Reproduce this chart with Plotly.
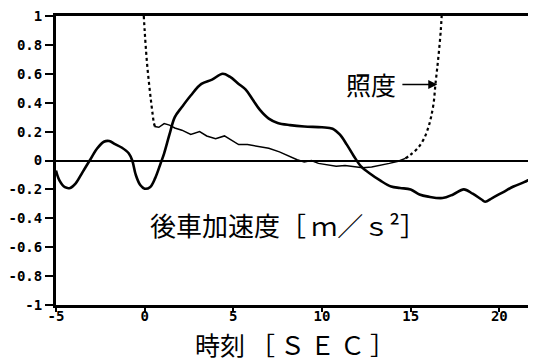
import plotly.graph_objects as go

# 後車加速度 (main thick curve)
acc_x = [-5.0, -4.8, -4.5, -4.2, -3.9, -3.5, -3.1, -2.7, -2.3, -2.0, -1.7, -1.3, -0.9, -0.7, -0.5, -0.25,
         0.0, 0.3, 0.6, 0.9, 1.1, 1.4, 1.7, 2.1, 2.6, 3.2, 3.8, 4.4, 4.8, 5.3, 5.7, 6.1, 6.5, 7.0, 7.5,
         8.2, 9.0, 10.0, 10.6, 11.0, 11.4, 11.8, 12.2, 12.7, 13.3, 13.9, 14.4, 15.0, 15.5, 16.0, 16.8,
         17.4, 18.0, 18.5, 19.0, 19.2, 19.6, 20.2, 20.8, 21.4, 22.0]
acc_y = [-0.07, -0.14, -0.185, -0.19, -0.16, -0.08, 0.0, 0.08, 0.13, 0.135, 0.115, 0.09, 0.05, 0.0, -0.1, -0.17,
         -0.195, -0.185, -0.12, -0.02, 0.05, 0.18, 0.3, 0.37, 0.45, 0.53, 0.56, 0.6, 0.58, 0.53, 0.49, 0.42, 0.35, 0.29, 0.26,
         0.245, 0.235, 0.23, 0.22, 0.18, 0.11, 0.03, -0.04, -0.09, -0.14, -0.18, -0.19, -0.2, -0.235, -0.25, -0.26,
         -0.235, -0.2, -0.23, -0.27, -0.285, -0.26, -0.22, -0.18, -0.15, -0.11]

# 照度 (illuminance): middle thin solid part
lux_x = [0.55, 0.8, 1.1, 1.4, 1.7, 2.1, 2.6, 3.1, 3.5, 4.0, 4.5, 4.9, 5.3, 5.8, 6.3, 7.0, 7.6, 8.1, 8.6,
         9.0, 9.4, 9.8, 10.3, 10.8, 11.3, 11.8, 12.3, 12.8, 13.3, 13.8, 14.3, 14.7]
lux_y = [0.235, 0.23, 0.255, 0.245, 0.225, 0.21, 0.18, 0.2, 0.17, 0.15, 0.17, 0.14, 0.11, 0.11, 0.1, 0.085, 0.06, 0.03, 0.005,
         -0.01, 0.0, -0.02, -0.03, -0.04, -0.035, -0.045, -0.05, -0.045, -0.035, -0.02, -0.005, 0.015]

# 照度: steep (dotted) parts
lux_l_x = [-0.05, 0.0, 0.06, 0.15, 0.25, 0.35, 0.45, 0.52, 0.58]
lux_l_y = [1.0, 0.9, 0.79, 0.65, 0.53, 0.42, 0.32, 0.26, 0.235]
lux_r_x = [14.7, 15.0, 15.4, 15.75, 16.0, 16.15, 16.3, 16.4, 16.5, 16.6, 16.7, 16.75]
lux_r_y = [0.015, 0.04, 0.085, 0.15, 0.23, 0.3, 0.4, 0.53, 0.64, 0.76, 0.9, 1.0]

x_ticks = [-5, 0, 5, 10, 15, 20]
x_ticktext = ["-5", "0", "5", "10", "15", "20"]
y_ticks = [1, 0.8, 0.6, 0.4, 0.2, 0, -0.2, -0.4, -0.6, -0.8, -1]
y_ticktext = ["1", "0.8", "0.6", "0.4", "0.2", "0", "-0.2", "-0.4", "-0.6", "-0.8", "-1"]

fig = go.Figure()
fig.add_trace(go.Scatter(x=acc_x, y=acc_y, mode="lines", line=dict(color="black", width=2.6, shape="spline"),
                         showlegend=False))
fig.add_trace(go.Scatter(x=lux_x, y=lux_y, mode="lines", line=dict(color="black", width=1.5),
                         showlegend=False))
fig.add_trace(go.Scatter(x=lux_l_x, y=lux_l_y, mode="lines", line=dict(color="black", width=2.2, dash="dot", shape="spline"),
                         showlegend=False))
fig.add_trace(go.Scatter(x=lux_r_x, y=lux_r_y, mode="lines", line=dict(color="black", width=2.2, dash="dot", shape="spline"),
                         showlegend=False))

jp = "Noto Sans CJK JP"
tickfont = dict(family="DejaVu Sans Mono", size=14, color="black", weight="bold")

# page body has an 8px margin; size the figure so the plot area lands where the reference has it
fig.update_layout(
    width=528, height=355,
    margin=dict(l=45, r=0, t=4, b=58),
    paper_bgcolor="white", plot_bgcolor="white",
    xaxis=dict(range=[-5, 22.07], tickvals=x_ticks, ticktext=x_ticktext, ticks="outside", ticklen=4,
               tickwidth=1.5, tickcolor="black", showgrid=False, zeroline=False, showline=True,
               linecolor="black", linewidth=3, mirror=True, tickfont=tickfont,
               ticklabeloverflow="allow", ticklabelstandoff=-8),
    yaxis=dict(range=[-1, 1], tickvals=y_ticks, ticktext=y_ticktext, ticks="outside", ticklen=8,
               tickwidth=1.5, tickcolor="black", showgrid=False, zeroline=True, zerolinecolor="black",
               zerolinewidth=1.5, showline=True, linecolor="black", linewidth=3, tickfont=tickfont,
               ticklabeloverflow="allow"),
    annotations=[
        dict(x=12.77, y=0.526, xref="x", yref="y", text="照度", showarrow=False,
             font=dict(family=jp, size=25, color="black")),
        dict(x=16.5, y=0.526, xref="x", yref="y", ax=14.45, ay=0.526, axref="x", ayref="y",
             text="", showarrow=True, arrowhead=2, arrowsize=1.2, arrowwidth=1.5, arrowcolor="black"),
        dict(x=8.06, y=-0.444, xref="x", yref="y", text="後車加速度［\u2009ｍ／ｓ²］", showarrow=False,
             font=dict(family=jp, size=26, color="black")),
        dict(x=0.497, y=-0.1365, xref="paper", yref="paper",
             text="時刻\u2009［\u2009Ｓ\u2009Ｅ\u2009Ｃ\u2009］", showarrow=False,
             yanchor="middle", font=dict(family=jp, size=25, color="black")),
    ],
)

fig.write_html("out.html")
